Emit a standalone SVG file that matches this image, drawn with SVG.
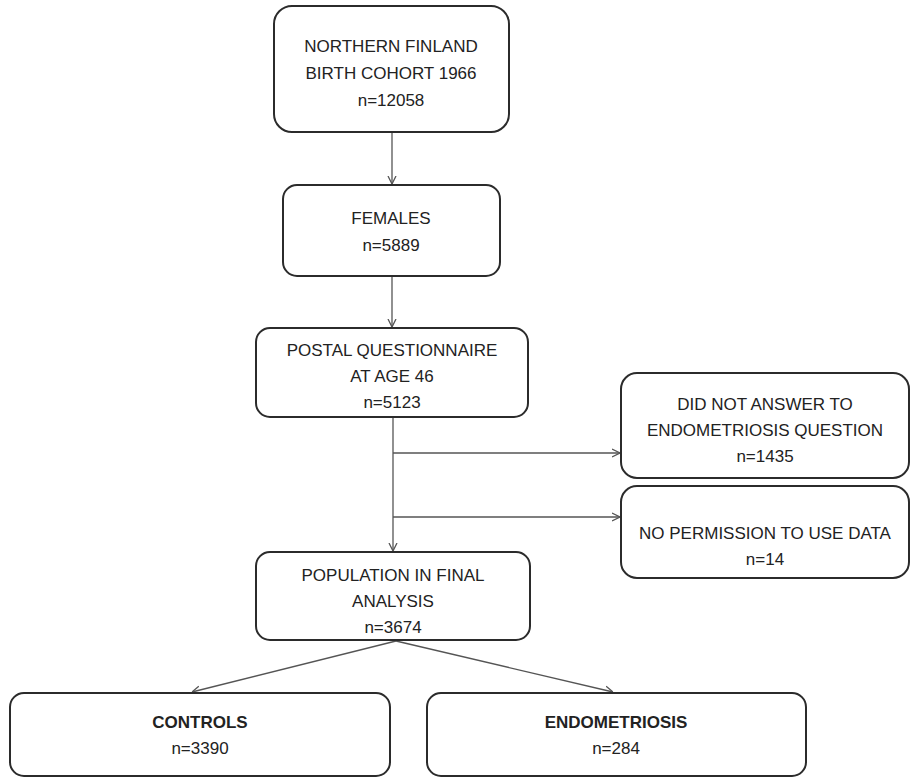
<svg xmlns="http://www.w3.org/2000/svg" width="915" height="780" viewBox="0 0 915 780">
<defs>
<marker id="arr" viewBox="0 0 8 10" refX="8" refY="5" markerWidth="8" markerHeight="10" markerUnits="userSpaceOnUse" orient="auto">
<path d="M0,1 L8,5 L0,9" fill="none" stroke="#555" stroke-width="1.3"/>
</marker>
<style>
.box{fill:#fff;stroke:#2b2b2b;stroke-width:2}
.t{font-family:"Liberation Sans",Arial,sans-serif;font-size:17px;fill:#222;text-anchor:middle}
.b{font-weight:bold}
.c{fill:none;stroke:#555;stroke-width:1.3}
</style>
</defs>
<rect width="915" height="780" fill="#fff"/>
<g id="connectors">
<line class="c" x1="392" y1="132" x2="392" y2="184" marker-end="url(#arr)"/>
<line class="c" x1="392" y1="276" x2="392" y2="327" marker-end="url(#arr)"/>
<line class="c" x1="393" y1="417" x2="393" y2="551" marker-end="url(#arr)"/>
<line class="c" x1="393" y1="453" x2="620" y2="453" marker-end="url(#arr)"/>
<line class="c" x1="393" y1="517" x2="620" y2="517" marker-end="url(#arr)"/>
<line class="c" x1="396" y1="641" x2="192" y2="692" marker-end="url(#arr)"/>
<line class="c" x1="396" y1="641" x2="613" y2="692" marker-end="url(#arr)"/>
</g>
<g id="n1">
<rect class="box" x="274" y="6" width="235" height="126" rx="18"/>
<text class="t" x="391" y="52">NORTHERN FINLAND</text>
<text class="t" x="391" y="79">BIRTH COHORT 1966</text>
<text class="t" x="391" y="106">n=12058</text>
</g>
<g id="n2">
<rect class="box" x="283" y="185" width="217" height="91" rx="14"/>
<text class="t" x="391" y="224">FEMALES</text>
<text class="t" x="391" y="251">n=5889</text>
</g>
<g id="n3">
<rect class="box" x="256" y="328" width="272" height="89" rx="14"/>
<text class="t" x="392" y="356">POSTAL QUESTIONNAIRE</text>
<text class="t" x="392" y="382">AT AGE 46</text>
<text class="t" x="392" y="408">n=5123</text>
</g>
<g id="n4">
<rect class="box" x="621" y="373" width="288" height="105" rx="16"/>
<text class="t" x="765" y="410">DID NOT ANSWER TO</text>
<text class="t" x="765" y="436">ENDOMETRIOSIS QUESTION</text>
<text class="t" x="765" y="462">n=1435</text>
</g>
<g id="n5">
<rect class="box" x="621" y="486" width="288" height="92" rx="16"/>
<text class="t" x="765" y="539">NO PERMISSION TO USE DATA</text>
<text class="t" x="765" y="565">n=14</text>
</g>
<g id="n6">
<rect class="box" x="256" y="552" width="274" height="88" rx="14"/>
<text class="t" x="393" y="581">POPULATION IN FINAL</text>
<text class="t" x="393" y="607">ANALYSIS</text>
<text class="t" x="393" y="633">n=3674</text>
</g>
<g id="n7">
<rect class="box" x="10" y="693" width="380" height="83" rx="14"/>
<text class="t b" x="200" y="728">CONTROLS</text>
<text class="t" x="200" y="754">n=3390</text>
</g>
<g id="n8">
<rect class="box" x="427" y="693" width="379" height="83" rx="14"/>
<text class="t b" x="616" y="728">ENDOMETRIOSIS</text>
<text class="t" x="616" y="754">n=284</text>
</g>
</svg>
